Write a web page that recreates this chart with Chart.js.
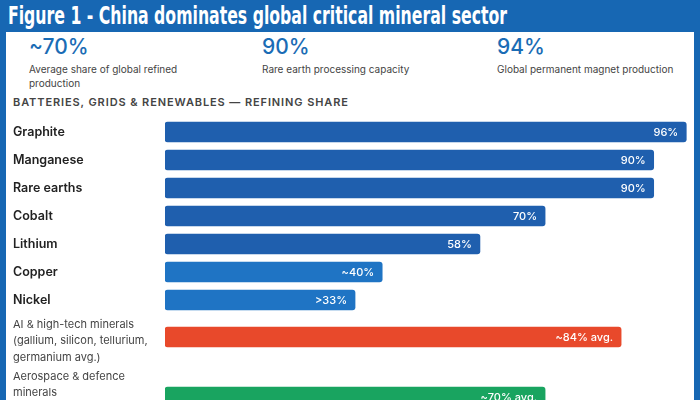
<!DOCTYPE html>
<html>
<head>
<meta charset="utf-8">
<script src="https://cdn.jsdelivr.net/npm/chart.js@4"></script>
<style>
    html, body {
        margin: 0;
        padding: 0;
        width: 700px;
        height: 400px;
        overflow: hidden;
        background: #ffffff;
        font-family: Inter, "Noto Sans", sans-serif;
    }
    #frame {
        position: absolute;
        left: 0;
        top: 0;
        width: 700px;
        height: 400px;
        background: #1767b3;
    }
    #panel {
        position: absolute;
        left: 6px;
        top: 32px;
        width: 688px;
        height: 368px;
        background: #ffffff;
    }
    #title {
        position: absolute;
        left: 8px;
        top: 2px;
        color: #ffffff;
        font-family: "Liberation Sans Narrow", "DejaVu Sans Condensed", sans-serif;
        font-weight: bold;
        font-size: 24px;
        white-space: nowrap;
        transform-origin: 0 0;
    }
    .stat {
        position: absolute;
        top: 34px;
    }
    .stat .big {
        color: #1a6cb5;
        font-size: 21px;
        font-weight: 500;
        line-height: 26px;
    }
    .stat .small {
        color: #444444;
        font-size: 10px;
        line-height: 14px;
        margin-top: 2px;
    }
    #subtitle {
        position: absolute;
        left: 13px;
        top: 95px;
        color: #444444;
        font-size: 11px;
        font-weight: 600;
        letter-spacing: 0.9px;
        white-space: nowrap;
    }
    .box {
        position: absolute;
        left: 8px;
        width: 700px;
    }
    #border {
        position: absolute;
        left: 694px;
        top: 0;
        width: 6px;
        height: 400px;
        background: #1767b3;
    }
</style>
</head>
<body>
<div id="frame"></div>
<div id="panel"></div>
<div id="title">Figure 1 - China dominates global critical mineral sector</div>
<div id="stats"></div>
<div id="subtitle">BATTERIES, GRIDS &amp; RENEWABLES — REFINING SHARE</div>
<div class="box" style="top:118px;height:196px;"><canvas id="mainChart"></canvas></div>
<div class="box" style="top:307px;height:120px;"><canvas id="otherChart"></canvas></div>
<div id="border"></div>
<script>
const statValues = ["~70%", "90%", "94%"];
const statTexts = [
    "Average share of global refined production",
    "Rare earth processing capacity",
    "Global permanent magnet production",
];

const minerals = [
    "Graphite",
    "Manganese",
    "Rare earths",
    "Cobalt",
    "Lithium",
    "Copper",
    "Nickel",
];
const mineralShares = [96, 90, 90, 70, 58, 40, 35];
const mineralLabels = ["96%", "90%", "90%", "70%", "58%", "~40%", ">33%"];

const groups = [
    ["AI & high-tech minerals", "(gallium, silicon, tellurium,", "germanium avg.)"],
    ["Aerospace & defence", "minerals", "(tungsten, antimony,", "beryllium avg.)"],
];
const groupShares = [84, 70];
const groupLabels = ["~84% avg.", "~70% avg."];

const darkBlue = "#1f5fae";
const lightBlue = "#1f74c4";
const mineralColors = [darkBlue, darkBlue, darkBlue, darkBlue, darkBlue, lightBlue, lightBlue];
const groupColors = ["#e8492b", "#19a460"];

function buildStats() {
    const lefts = [29, 262, 497];
    const widths = [175, 200, 195];
    const holder = document.querySelector("#stats");
    statValues.forEach((v, i) => {
        const el = document.createElement("div");
        el.className = "stat";
        el.style.left = `${lefts[i]}px`;
        el.style.width = `${widths[i]}px`;
        el.innerHTML = `<div class="big">${v}</div><div class="small">${statTexts[i]}</div>`;
        holder.appendChild(el);
    });
}

function fitTitle() {
    const t = document.querySelector("#title");
    const w = t.getBoundingClientRect().width;
    t.style.transform = `scaleX(${499 / w})`;
}

function valueLabelPlugin(labels) {
    return {
        id: "valueLabels",
        afterDatasetsDraw(chart) {
            const ctx = chart.ctx;
            const meta = chart.getDatasetMeta(0);
            ctx.save();
            ctx.fillStyle = "#ffffff";
            ctx.font = "500 11px Inter, 'Noto Sans', sans-serif";
            ctx.textAlign = "right";
            ctx.textBaseline = "middle";
            meta.data.forEach((bar, i) => {
                ctx.fillText(labels[i], bar.x - 8, bar.y + 1);
            });
            ctx.restore();
        },
    };
}

function makeChart(id, labels, values, colors, textLabels, tickFont, tickColor, labelShift) {
    const ctx = document.getElementById(id);
    return new Chart(ctx, {
        type: "bar",
        data: {
            labels: labels,
            datasets: [
                {
                    data: values,
                    backgroundColor: colors,
                    borderRadius: 3,
                    borderSkipped: false,
                    barThickness: 20,
                },
            ],
        },
        options: {
            indexAxis: "y",
            responsive: true,
            maintainAspectRatio: false,
            animation: false,
            layout: { padding: { left: 5, right: 0, top: 0, bottom: 0 } },
            plugins: {
                legend: { display: false },
                tooltip: { enabled: false },
            },
            scales: {
                x: {
                    display: false,
                    min: 0,
                    max: 100,
                },
                y: {
                    grid: { display: false },
                    border: { display: false },
                    ticks: {
                        crossAlign: "far",
                        autoSkip: false,
                        color: tickColor,
                        font: tickFont,
                        padding: 0,
                        labelOffset: labelShift,
                    },
                    afterFit: (scale) => {
                        scale.width = 152;
                        scale.paddingTop = 0;
                        scale.paddingBottom = 0;
                    },
                },
            },
        },
        plugins: [valueLabelPlugin(textLabels)],
    });
}

function main() {
    buildStats();
    fitTitle();

    makeChart(
        "mainChart",
        minerals,
        mineralShares,
        mineralColors,
        mineralLabels,
        { family: "Inter", size: 12.5, weight: "600" },
        "#222222",
        0,
    );

    makeChart(
        "otherChart",
        groups,
        groupShares,
        groupColors,
        groupLabels,
        { family: "Inter", size: 11, weight: "400", lineHeight: 1.5 },
        "#444444",
        4,
    );
}

main();
</script>
</body>
</html>
